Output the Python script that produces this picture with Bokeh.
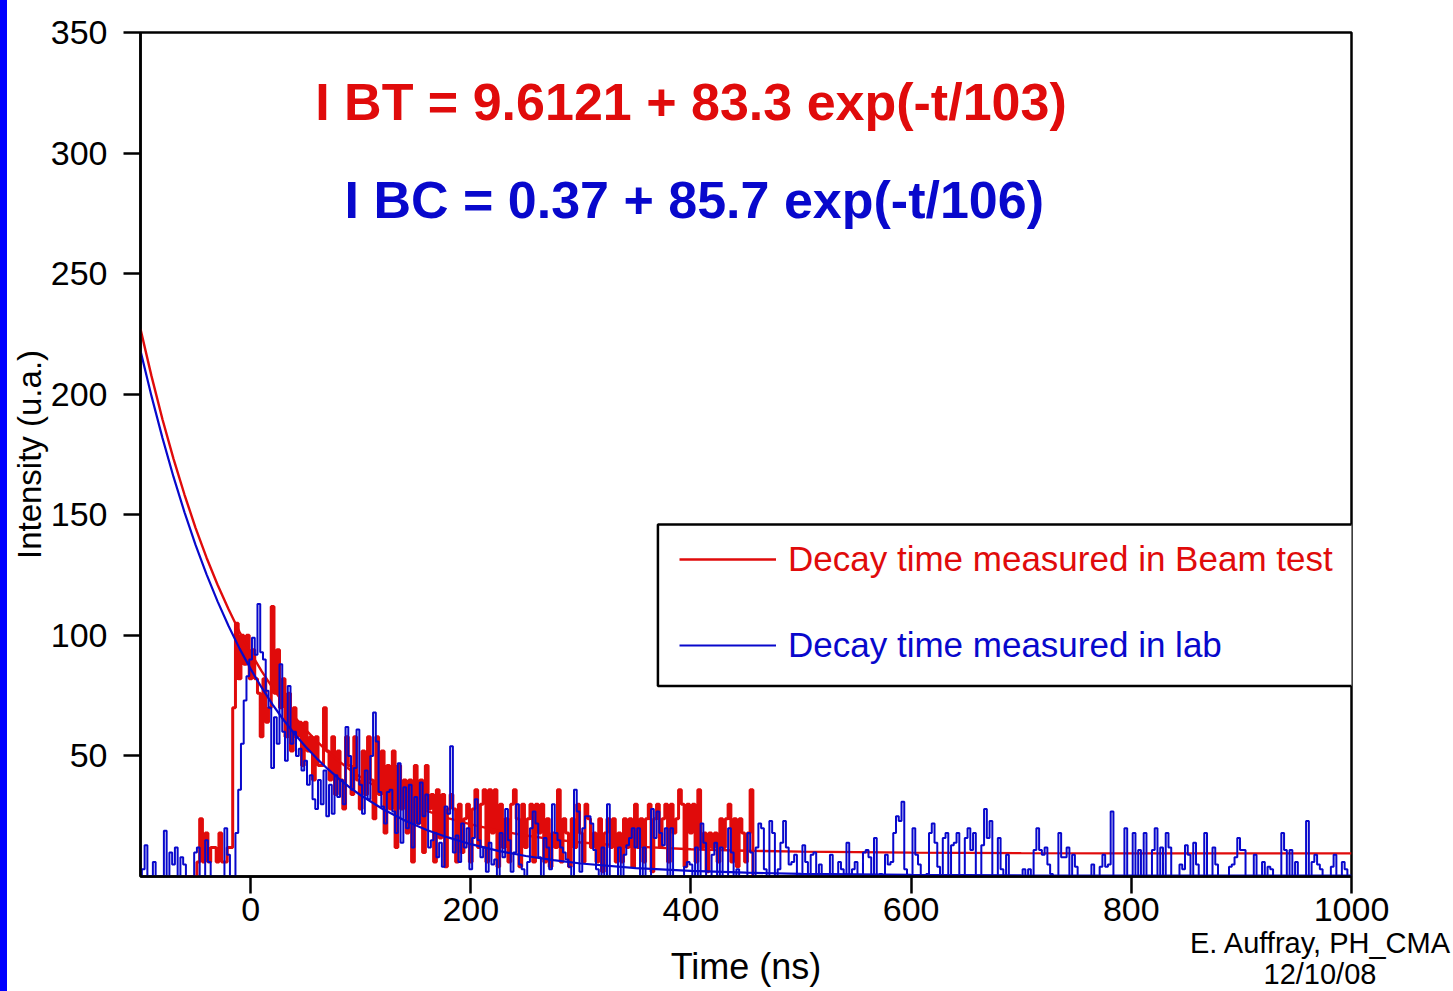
import numpy as np
from bokeh.plotting import figure
from bokeh.models import (Range1d, FixedTicker, Label, BoxAnnotation, Legend,
                          LegendItem, Div)
from bokeh.layouts import row
from bokeh.embed import file_html
from bokeh.resources import INLINE

# ---------------- data ----------------
BLUE_START_NS = -100.0
BIN_NS = 2.5
# lab measurement (counts per 2.5 ns channel, from -100 ns to 1000 ns)
blue_counts = [
    0, 3, 13, 0, 0, 6, 0, 0, 0, 19, 0, 10, 5, 12, 0, 8, 5, 0, 0, 0,
    10, 12, 0, 0, 15, 6, 0, 0, 0, 0, 0, 20, 9, 0, 0, 18, 36, 55, 73, 83,
    90, 99, 92, 113, 93, 90, 77, 70, 45, 66, 55, 88, 60, 48, 79, 55, 60, 50, 53, 44,
    48, 38, 42, 32, 28, 40, 30, 44, 25, 38, 26, 42, 33, 40, 30, 62, 50, 36, 45, 61,
    38, 26, 44, 32, 50, 68, 56, 35, 29, 22, 35, 36, 27, 18, 47, 14, 37, 20, 38, 12,
    33, 22, 39, 25, 34, 12, 15, 18, 8, 14, 4, 29, 26, 54, 10, 17, 6, 22, 12, 20,
    3, 16, 32, 15, 8, 12, 2, 14, 5, 7, 0, 18, 8, 28, 15, 2, 10, 30, 5, 3,
    0, 6, 20, 27, 22, 8, 0, 16, 12, 3, 30, 18, 15, 12, 10, 7, 4, 0, 36, 27,
    2, 20, 25, 25, 22, 11, 3, 0, 12, 0, 30, 0, 0, 0, 12, 0, 9, 13, 16, 20,
    12, 20, 0, 12, 0, 0, 28, 16, 27, 18, 13, 20, 0, 20, 0, 0, 0, 0, 4, 6,
    5, 0, 12, 0, 22, 14, 0, 0, 9, 14, 0, 12, 0, 0, 20, 10, 0, 3, 0, 0,
    0, 18, 10, 0, 12, 22, 20, 3, 0, 23, 18, 0, 3, 14, 23, 12, 5, 6, 9, 0,
    0, 13, 6, 0, 9, 10, 0, 5, 0, 0, 0, 9, 0, 0, 6, 3, 0, 14, 0, 3,
    6, 0, 0, 10, 11, 8, 0, 16, 0, 1, 0, 9, 5, 6, 18, 25, 23, 31, 3, 0,
    0, 20, 9, 5, 0, 0, 1, 18, 22, 14, 4, 0, 16, 18, 0, 13, 14, 18, 0, 0,
    16, 20, 11, 18, 0, 0, 13, 28, 16, 23, 0, 0, 16, 3, 0, 9, 0, 0, 0, 0,
    0, 3, 0, 3, 0, 11, 20, 11, 9, 12, 5, 1, 0, 0, 18, 8, 8, 12, 0, 9,
    4, 0, 0, 0, 0, 0, 5, 0, 0, 4, 9, 4, 5, 27, 0, 0, 0, 0, 20, 0,
    0, 18, 0, 11, 0, 18, 0, 0, 11, 20, 0, 12, 0, 18, 12, 0, 0, 0, 5, 3,
    13, 9, 0, 14, 5, 0, 0, 18, 0, 0, 12, 5, 0, 0, 0, 0, 4, 5, 8, 16,
    11, 11, 0, 0, 0, 9, 0, 0, 6, 0, 4, 3, 0, 0, 0, 18, 11, 0, 11, 0,
    6, 0, 0, 0, 23, 0, 6, 9, 5, 3, 0, 0, 0, 4, 9, 0, 0, 6, 3, 0, 0,
]

RED_START_NS = -60.0
# beam test measurement (counts per 2.5 ns channel, from -60 ns to ~497 ns)
red_counts = [
    0, 0, 0, 0,
    0, 6, 24, 6, 18, 6, 12, 12, 6, 18, 6, 6, 12, 12, 70, 105, 82, 100, 88, 100,
    82, 94, 82, 76, 58, 82, 64, 70, 112, 76, 94, 70, 82, 58, 76, 52, 70, 58, 64, 46,
    64, 52, 58, 40, 58, 46, 46, 70, 52, 40, 58, 34, 52, 40, 28, 58, 46, 34, 58, 40,
    28, 52, 34, 58, 40, 24, 58, 34, 52, 18, 46, 28, 52, 12, 46, 28, 40, 18, 40, 6,
    46, 22, 40, 10, 46, 28, 34, 6, 36, 16, 34, 4, 28, 34, 28, 6, 30, 10, 24, 30,
    6, 28, 36, 12, 30, 36, 6, 36, 18, 36, 4, 30, 12, 24, 6, 30, 36, 24, 4, 30,
    12, 24, 30, 6, 30, 18, 30, 6, 24, 4, 18, 12, 36, 6, 24, 18, 4, 24, 12, 30,
    18, 6, 30, 24, 12, 18, 6, 24, 2, 18, 24, 12, 24, 6, 18, 6, 24, 12, 24, 4,
    30, 12, 24, 6, 24, 30, 2, 24, 30, 12, 24, 30, 6, 30, 18, 24, 36, 30, 4, 30,
    18, 30, 6, 36, 12, 18, 2, 18, 12, 18, 6, 24, 12, 24, 30, 6, 24, 4, 24, 18,
    6, 18, 36, 0,
]

# fitted curves
fit_t = [-100, -90, -80, -70, -60, -50, -40, -30, -20, -10, 0, 10, 20, 30, 40,
         50, 60, 70, 80, 90, 100, 120, 140, 160, 180, 200, 225, 250, 275, 300,
         350, 400, 450, 500, 600, 700, 800, 900, 1000]
fit_bt = [227.0, 207.5, 189.5, 173.2, 158.3, 144.6, 132.2, 121.0, 110.8, 101.4,
          92.9, 85.2, 78.2, 71.9, 66.1, 60.9, 56.1, 51.8, 47.9, 44.4, 41.2,
          35.6, 31.0, 27.2, 24.1, 21.6, 19.0, 17.0, 15.4, 14.1, 12.4, 11.3,
          10.7, 10.3, 9.9, 9.7, 9.6, 9.6, 9.6]
fit_bc = [218.0, 199.2, 181.8, 165.7, 151.0, 137.5, 125.3, 114.1, 103.9, 94.5,
          86.1, 78.4, 71.3, 64.9, 59.1, 53.8, 49.0, 44.6, 40.7, 37.0, 33.7,
          28.0, 23.2, 19.3, 16.1, 13.4, 10.6, 8.5, 6.8, 5.4, 3.5, 2.3, 1.6,
          1.1, 0.7, 0.5, 0.4, 0.4, 0.4]

x_ticks = [0, 200, 400, 600, 800, 1000]
y_ticks = [50, 100, 150, 200, 250, 300, 350]

eq_bt = "I BT = 9.6121 + 83.3 exp(-t/103)"
eq_bc = "I BC = 0.37 + 85.7 exp(-t/106)"
legend_labels = ["Decay time measured in Beam test", "Decay time measured in lab"]
author = "E. Auffray, PH_CMA"
date = "12/10/08"

# ---------------- styling ----------------
RED = "#e00b0b"
BLUE = "#0808cc"
FONT = "Liberation Sans"

blue_t = BLUE_START_NS + BIN_NS * np.arange(len(blue_counts))
red_t = RED_START_NS + BIN_NS * np.arange(len(red_counts))

p = figure(width=1446, height=991,
           x_range=Range1d(-100, 1000), y_range=Range1d(0, 350),
           output_backend="svg", toolbar_location=None,
           min_border_left=133, min_border_right=102,
           min_border_top=32, min_border_bottom=115,
           x_axis_label="Time (ns)", y_axis_label="Intensity (u.a.)")
p.grid.visible = False
p.background_fill_color = "white"
p.border_fill_color = "white"
p.outline_line_color = "black"
p.outline_line_width = 2.5
p.outline_line_alpha = 1.0

for ax in (p.xaxis[0], p.yaxis[0]):
    ax.axis_line_width = 2.5
    ax.axis_line_color = "black"
    ax.major_tick_line_width = 2.5
    ax.major_tick_line_color = "black"
    ax.major_tick_out = 17
    ax.major_tick_in = 0
    ax.minor_tick_line_color = None
    ax.major_label_text_font = FONT
    ax.major_label_text_font_size = "34px"
    ax.major_label_text_color = "black"
    ax.axis_label_text_font = FONT
    ax.axis_label_text_font_style = "normal"
    ax.axis_label_text_color = "black"

p.xaxis.ticker = FixedTicker(ticks=x_ticks)
p.yaxis.ticker = FixedTicker(ticks=y_ticks)
p.xaxis.major_label_standoff = 4
p.yaxis.major_label_standoff = 16
p.xaxis.axis_label_text_font_size = "36px"
p.yaxis.axis_label_text_font_size = "33px"
p.xaxis.axis_label_standoff = 22
p.yaxis.axis_label_standoff = 0

# data (order: red data, red fit, blue data, blue fit)
p.step(red_t, red_counts, mode="center", line_color=RED, line_width=3.0)
r_fit_red = p.line(fit_t, fit_bt, line_color=RED, line_width=2.4)
p.step(blue_t, blue_counts, mode="center", line_color=BLUE, line_width=2.0)
r_fit_blue = p.line(fit_t, fit_bc, line_color=BLUE, line_width=2.2)

# equations
p.add_layout(Label(x=400, y=321, text=eq_bt, text_align="center",
                   text_baseline="middle", text_font=FONT, text_font_style="bold",
                   text_font_size="52px", text_color=RED))
p.add_layout(Label(x=403, y=280.5, text=eq_bc, text_align="center",
                   text_baseline="middle", text_font=FONT, text_font_style="bold",
                   text_font_size="52px", text_color=BLUE))

# legend frame + two legends (one colour each)
p.add_layout(BoxAnnotation(left=370, right=1003, bottom=79, top=146,
                           fill_color="white", fill_alpha=1.0,
                           line_color="black", line_width=2.5, line_alpha=1.0))
for rend, lab, col, loc in ((r_fit_red, legend_labels[0], RED, (539, 297)),
                            (r_fit_blue, legend_labels[1], BLUE, (539, 211))):
    lg = Legend(items=[LegendItem(label=lab, renderers=[rend])], location=loc,
                border_line_color=None, background_fill_alpha=0,
                label_text_color=col, label_text_font=FONT,
                label_text_font_size="35px", glyph_width=97, glyph_height=34,
                label_height=34, label_standoff=12, padding=0, margin=0,
                spacing=0)
    p.add_layout(lg, "center")

# author / date, below the plot at the right
note = Div(text=f"{author}<br>{date}", width=300, height=62,
           styles={"position": "absolute", "left": "1165px", "top": "923px",
                   "font-family": FONT, "font-size": "29px",
                   "line-height": "31px", "text-align": "center",
                   "color": "black", "white-space": "nowrap", "z-index": "10"})

strip = Div(text="", width=7, height=991,
            styles={"background-color": "#0000ff", "margin": "0", "padding": "0"})
layout = row(strip, p, note, spacing=0)

open("out.html", "w").write(file_html(layout, INLINE))
